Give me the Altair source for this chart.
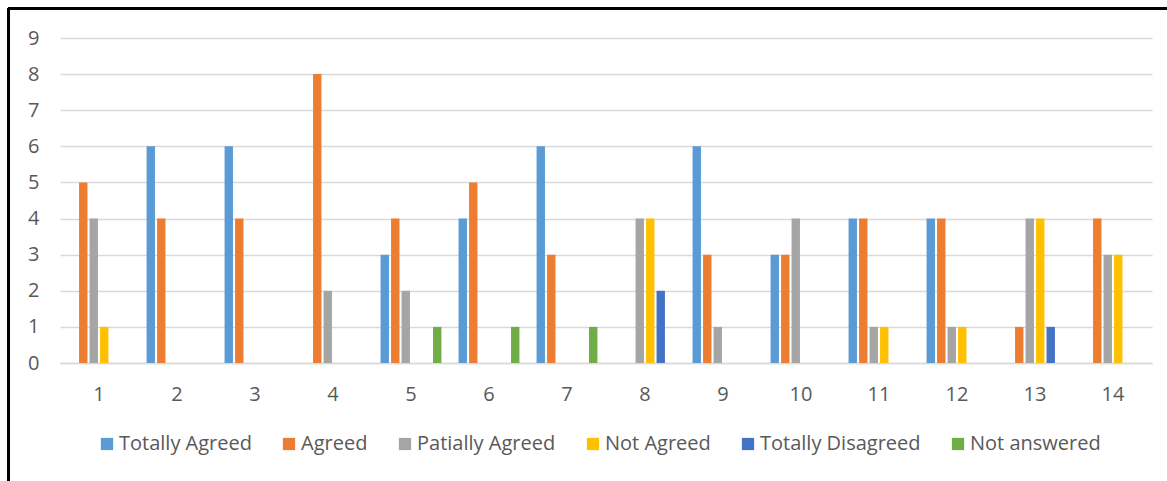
import altair as alt
import pandas as pd

groups = [str(i) for i in range(1, 15)]
series = ["Totally Agreed", "Agreed", "Patially Agreed", "Not Agreed", "Totally Disagreed", "Not answered"]
colors = ["#5B9BD5", "#ED7D31", "#A5A5A5", "#FFC000", "#4472C4", "#70AD47"]

totally_agreed    = [0, 6, 6, 0, 3, 4, 6, 0, 6, 3, 4, 4, 0, 0]
agreed            = [5, 4, 4, 8, 4, 5, 3, 0, 3, 3, 4, 4, 1, 4]
patially_agreed   = [4, 0, 0, 2, 2, 0, 0, 4, 1, 4, 1, 1, 4, 3]
not_agreed        = [1, 0, 0, 0, 0, 0, 0, 4, 0, 0, 1, 1, 4, 3]
totally_disagreed = [0, 0, 0, 0, 0, 0, 0, 2, 0, 0, 0, 0, 1, 0]
not_answered      = [0, 0, 0, 0, 1, 1, 1, 0, 0, 0, 0, 0, 0, 0]

values = [totally_agreed, agreed, patially_agreed, not_agreed, totally_disagreed, not_answered]
rows = []
for s, vals in zip(series, values):
    for g, v in zip(groups, vals):
        rows.append({"group": g, "series": s, "value": v})
df = pd.DataFrame(rows)

FONT = "Open Sans"
LABEL_COLOR = "#595959"

bars = alt.Chart(df).mark_bar().encode(
    x=alt.X("group:N", sort=groups, title=None,
            scale=alt.Scale(paddingInner=0.22, paddingOuter=0.11),
            axis=alt.Axis(labelAngle=0, ticks=False, domain=True, domainColor="#d9d9d9",
                          domainWidth=1.5, labelPadding=21, labelFontSize=20,
                          labelColor=LABEL_COLOR, labelFont=FONT, grid=False)),
    xOffset=alt.XOffset("series:N", sort=series,
                        scale=alt.Scale(paddingInner=0.2, paddingOuter=0)),
    y=alt.Y("value:Q", title=None,
            scale=alt.Scale(domain=[0, 9], nice=False),
            axis=alt.Axis(values=list(range(0, 10)), ticks=False, domain=False,
                          gridColor="#d9d9d9", gridWidth=1.5, labelPadding=21,
                          labelFontSize=20, labelColor=LABEL_COLOR, labelFont=FONT)),
    color=alt.Color("series:N", sort=series,
                    scale=alt.Scale(domain=series, range=colors),
                    legend=alt.Legend(title=None, orient="none", direction="horizontal",
                                      legendX=37, legendY=396, symbolType="square",
                                      symbolSize=150, symbolStrokeWidth=0,
                                      labelFontSize=20, labelColor=LABEL_COLOR,
                                      labelFont=FONT, columnPadding=27, labelOffset=2,
                                      labelLimit=300)),
)

top_border = alt.Chart(df).mark_rule(color="black", strokeWidth=2).encode(
    x=alt.value(-52), x2=alt.value(1107), y=alt.value(-29.5)
)
left_border = alt.Chart(df).mark_rule(color="black", strokeWidth=2).encode(
    x=alt.value(-51.5), y=alt.value(-30), y2=alt.value(443)
)

chart = alt.layer(bars, top_border, left_border).properties(
    width=1092, height=325,
    autosize=alt.AutoSizeParams(type="none"),
    padding={"left": 60, "top": 38, "right": 15, "bottom": 118},
    background="white",
).configure_view(stroke=None)

chart.save("out.html", embed_options={"renderer": "svg", "actions": False})
